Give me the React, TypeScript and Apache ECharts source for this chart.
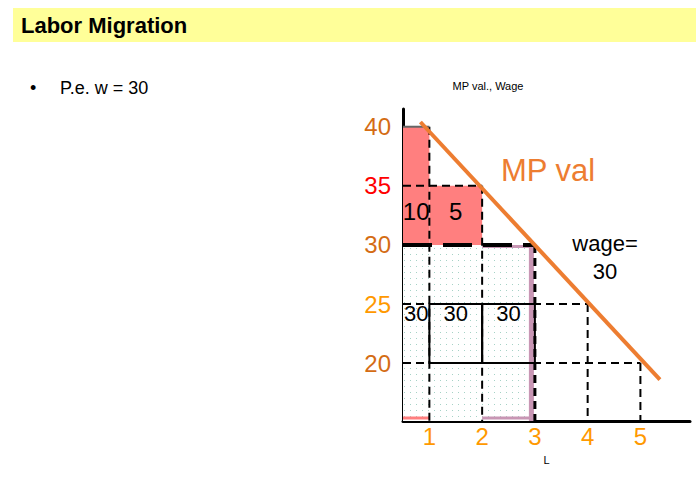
import React, { useEffect, useRef } from 'react';
import * as echarts from 'echarts';

// ---- data ----
const laborUnits = [1, 2, 3, 4, 5];
const mpValues = [40, 35, 30, 25, 20];
const wage = 30;
const surplusLabels = ['10', '5'];
const wageBillLabels = ['30', '30', '30'];
const wageBillBoxes = [[1, 2], [2, 3]];
const boxRange = [20, 25];
const mpLine = [[0.83, 40.4], [5.37, 18.6]];
const yTickValues = [20, 25, 30, 35, 40];
const xTickValues = [1, 2, 3, 4, 5];

const X_MIN = 0.5;
const X_MAX = 5.94;
const Y_MIN = 15.1;
const Y_MAX = 41.5;

const FONT = '"Liberation Sans", Arial, sans-serif';
const DARK_ORANGE = '#D46C14';
const yLabelColor: Record<string, string> = {
  '40': DARK_ORANGE,
  '35': '#FF0000',
  '30': DARK_ORANGE,
  '25': '#FF9900',
  '20': DARK_ORANGE,
};

const employed = mpValues.filter((v) => v >= wage).length;
const colLeft = (L: number) => Math.max(X_MIN, L - 1);

function rectShape(api: any, x0: number, y0: number, x1: number, y1: number) {
  const p0 = api.coord([x0, y1]);
  const p1 = api.coord([x1, y0]);
  return { x: p0[0], y: p0[1], width: p1[0] - p0[0], height: p1[1] - p0[1] };
}

function lineShape(api: any, x0: number, y0: number, x1: number, y1: number) {
  const a = api.coord([x0, y0]);
  const b = api.coord([x1, y1]);
  return { x1: a[0], y1: a[1], x2: b[0], y2: b[1] };
}

function makeDotPattern() {
  const c = document.createElement('canvas');
  c.width = 6;
  c.height = 6;
  const ctx = c.getContext('2d')!;
  ctx.fillStyle = '#ffffff';
  ctx.fillRect(0, 0, 6, 6);
  ctx.fillStyle = '#a6d2c6';
  ctx.fillRect(2, 2, 1, 1);
  return { image: c, repeat: 'repeat', imageWidth: 6, imageHeight: 6 };
}

export default function App() {
  const ref = useRef<HTMLDivElement>(null);

  useEffect(() => {
    if (!ref.current) return;
    const chart = echarts.init(ref.current, undefined, { renderer: 'svg' });
    const pattern = makeDotPattern();

    const surplusData = laborUnits
      .map((L, i) => [L, mpValues[i]])
      .filter((d) => d[1] > wage);

    const option: any = {
      animation: false,
      backgroundColor: '#ffffff',
      grid: { left: 403, top: 109, width: 287, height: 312, containLabel: false },
      xAxis: {
        type: 'value',
        min: X_MIN,
        max: X_MAX,
        name: 'L',
        nameLocation: 'middle',
        nameGap: 33,
        nameTextStyle: { fontFamily: FONT, fontSize: 11, color: '#000' },
        axisLine: { show: true, onZero: false, lineStyle: { color: '#000', width: 3 } },
        axisTick: { show: false },
        splitLine: { show: false },
        axisLabel: {
          customValues: xTickValues,
          color: '#FF9900',
          fontFamily: FONT,
          fontSize: 24,
          margin: 3,
        },
      },
      yAxis: {
        type: 'value',
        min: Y_MIN,
        max: Y_MAX,
        axisLine: { show: true, onZero: false, lineStyle: { color: '#000', width: 3 } },
        axisTick: { show: false },
        splitLine: { show: false },
        axisLabel: {
          customValues: yTickValues,
          color: (v: any) => yLabelColor[String(v)] || DARK_ORANGE,
          fontFamily: FONT,
          fontSize: 24,
          margin: 12,
        },
      },
      series: [
        // wage bill area (dotted)
        {
          type: 'custom',
          clip: false,
          z: 1,
          data: [[employed, wage]],
          renderItem: (params: any, api: any) => {
            const L = api.value(0);
            const w = api.value(1);
            const base = lineShape(api, X_MIN, Y_MIN, 1, Y_MIN);
            return {
              type: 'group',
              children: [
                {
                  type: 'rect',
                  shape: rectShape(api, X_MIN, Y_MIN, L, w),
                  style: { fill: pattern as any, stroke: null },
                },
                {
                  type: 'line',
                  shape: { ...base, y1: base.y1 - 3, y2: base.y2 - 3 },
                  style: { stroke: '#FF7F7F', lineWidth: 3 },
                },
              ],
            };
          },
        },
        // last hired worker outline (mauve): top, right, bottom
        {
          type: 'custom',
          clip: false,
          z: 2,
          data: [[employed, wage]],
          renderItem: (params: any, api: any) => {
            const L = api.value(0);
            const w = api.value(1);
            const r = rectShape(api, L - 1, Y_MIN, L, w);
            const x0 = r.x;
            const x1 = r.x + r.width;
            const y0 = r.y + 1.5;
            const y1 = r.y + r.height - 3;
            return {
              type: 'group',
              children: [
                {
                  type: 'polyline',
                  shape: { points: [[x0, y0], [x1 - 3, y0], [x1 - 3, y1], [x0, y1]] },
                  style: { fill: null, stroke: '#C896B4', lineWidth: 3 },
                },
                {
                  type: 'rect',
                  shape: { x: x1 - 6, y: r.y, width: 5, height: r.height },
                  style: { fill: '#C896B4' },
                },
              ],
            };
          },
        },
        // surplus rectangles (red) with labels
        {
          type: 'custom',
          clip: false,
          z: 3,
          data: surplusData,
          renderItem: (params: any, api: any) => {
            const L = api.value(0);
            const mp = api.value(1);
            const x0 = colLeft(L);
            const c = api.coord([(x0 + L) / 2, wage + 2.8]);
            return {
              type: 'group',
              children: [
                {
                  type: 'rect',
                  shape: rectShape(api, x0, wage, L, mp),
                  style: { fill: '#FF7F7F' },
                },
                {
                  type: 'text',
                  x: c[0],
                  y: c[1],
                  style: {
                    text: surplusLabels[params.dataIndex],
                    fill: '#000',
                    font: `24px ${FONT}`,
                    align: 'center',
                    verticalAlign: 'middle',
                  },
                },
              ],
            };
          },
        },
        // dashed guide lines from the MP values
        {
          type: 'custom',
          clip: false,
          z: 4,
          data: laborUnits.map((L, i) => [L, mpValues[i]]),
          renderItem: (params: any, api: any) => {
            const L = api.value(0);
            const mp = api.value(1);
            const children: any[] = [];
            const isWage = mp === wage;
            children.push({
              type: 'line',
              shape: lineShape(api, L, mp, L, Y_MIN),
              style: { stroke: '#000', lineWidth: isWage ? 3 : 2, lineDash: [8, 5] },
            });
            if (params.dataIndex === 0) {
              children.push({
                type: 'line',
                shape: lineShape(api, X_MIN, mp, L, mp),
                style: { stroke: '#666', lineWidth: 2 },
              });
            } else if (isWage) {
              children.push({
                type: 'line',
                shape: lineShape(api, X_MIN, mp, L, mp),
                style: { stroke: '#000', lineWidth: 4, lineDash: [29, 11] },
              });
            } else {
              children.push({
                type: 'line',
                shape: lineShape(api, X_MIN, mp, L, mp),
                style: { stroke: '#000', lineWidth: 2, lineDash: [8, 5] },
              });
            }
            return { type: 'group', children };
          },
        },
        // solid boxes in the wage bill
        {
          type: 'custom',
          clip: false,
          z: 5,
          data: wageBillBoxes,
          renderItem: (params: any, api: any) => {
            const x0 = api.value(0);
            const x1 = api.value(1);
            return {
              type: 'rect',
              shape: rectShape(api, x0, boxRange[0], x1, boxRange[1]),
              style: { fill: null, stroke: '#000', lineWidth: 2 },
            };
          },
        },
        // wage bill labels
        {
          type: 'custom',
          clip: false,
          z: 6,
          data: wageBillLabels.map((_, i) => [laborUnits[i], boxRange[1]]),
          renderItem: (params: any, api: any) => {
            const L = api.value(0);
            const top = api.value(1);
            const c = api.coord([(colLeft(L) + L) / 2, top]);
            return {
              type: 'text',
              x: c[0],
              y: c[1] + 9,
              style: {
                text: wageBillLabels[params.dataIndex],
                fill: '#000',
                font: `22px ${FONT}`,
                align: 'center',
                verticalAlign: 'middle',
              },
            };
          },
        },
        // MP value line
        {
          type: 'line',
          z: 7,
          data: mpLine,
          symbol: 'none',
          lineStyle: { color: '#ED7D31', width: 4 },
        },
      ],
      graphic: [
        {
          type: 'rect',
          shape: { x: 13, y: 8, width: 683, height: 34 },
          style: { fill: '#FFFF99' },
          z: 0,
        },
        {
          type: 'text',
          x: 21,
          y: 25,
          style: {
            text: 'Labor Migration',
            font: `bold 22px ${FONT}`,
            fill: '#000',
            verticalAlign: 'middle',
          },
        },
        {
          type: 'text',
          x: 30,
          y: 88,
          style: { text: '•', font: `18px ${FONT}`, fill: '#000', verticalAlign: 'middle' },
        },
        {
          type: 'text',
          x: 60,
          y: 88,
          style: { text: 'P.e. w = 30', font: `18px ${FONT}`, fill: '#000', verticalAlign: 'middle' },
        },
        {
          type: 'text',
          x: 488,
          y: 86,
          style: { text: 'MP val., Wage', font: `11px ${FONT}`, fill: '#000', align: 'center', verticalAlign: 'middle' },
        },
        {
          type: 'text',
          x: 548,
          y: 170,
          style: { text: 'MP val', font: `31px ${FONT}`, fill: '#ED7D31', align: 'center', verticalAlign: 'middle' },
        },
        {
          type: 'text',
          x: 605,
          y: 243,
          style: { text: 'wage=', font: `22px ${FONT}`, fill: '#000', align: 'center', verticalAlign: 'middle' },
        },
        {
          type: 'text',
          x: 605,
          y: 271,
          style: { text: '30', font: `22px ${FONT}`, fill: '#000', align: 'center', verticalAlign: 'middle' },
        },
      ],
    };

    chart.setOption(option);
    return () => chart.dispose();
  }, []);

  return <div ref={ref} style={{ position: 'absolute', left: 0, top: 0, width: 696, height: 481 }} />;
}
